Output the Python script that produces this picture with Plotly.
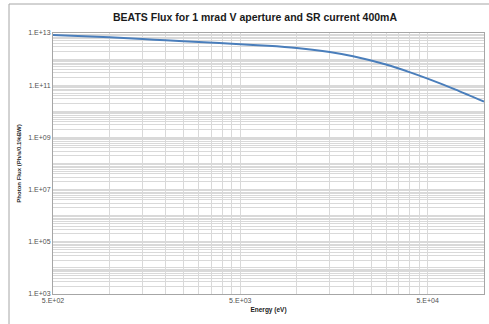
import plotly.graph_objects as go
import numpy as np

# Data
energy_eV = [500, 1000, 1500, 2000, 3000, 5000, 7000, 10000, 15000, 20000, 30000, 40000, 50000, 70000, 100000]
log_flux = [12.92, 12.835, 12.77, 12.72, 12.655, 12.567, 12.51, 12.425, 12.272, 12.107, 11.79, 11.50, 11.25, 10.84, 10.368]
flux = [10 ** v for v in log_flux]

x_label_vals = [500, 5000, 50000]
x_label_text = ["5.E+02", "5.E+03", "5.E+04"]
y_label_vals = [1e3, 1e5, 1e7, 1e9, 1e11, 1e13]
y_label_text = ["1.E+03", "1.E+05", "1.E+07", "1.E+09", "1.E+11", "1.E+13"]

# gridline positions (Excel-style minor gridlines)
x_grid = [500 * m * 10 ** k for k in range(3) for m in range(1, 10)] + [100000]
x_grid = sorted(set(v for v in x_grid if 500 <= v <= 100000))
y_grid = sorted(set(m * 10 ** k for k in range(3, 13) for m in range(1, 10)) | {1e13})

def ticktexts(grid, vals, texts):
    out = []
    for g in grid:
        t = ""
        for v, s in zip(vals, texts):
            if abs(g - v) / v < 1e-9:
                t = s
        out.append(t)
    return out

fig = go.Figure()
fig.add_trace(go.Scatter(x=energy_eV, y=flux, mode="lines",
                         line=dict(color="#4a7ebb", width=2, shape="spline", smoothing=0.8),
                         showlegend=False))

W, H = 489, 324
L, R, T, B = 53, 5, 33, 30
pw, ph = W - L - R, H - T - B

fig.update_layout(
    width=W, height=H,
    margin=dict(l=L, r=R, t=T, b=B),
    paper_bgcolor="white", plot_bgcolor="white",
    title=dict(text="<b>BEATS Flux for 1 mrad V aperture and SR current 400mA</b>",
               x=255 / W, xanchor="center", y=1 - 17 / H, yanchor="middle",
               font=dict(family="Liberation Sans, sans-serif", size=10.5, color="#1a1a1a")),
    font=dict(family="Liberation Sans, sans-serif", size=7, color="#404040"),
)

fig.update_xaxes(type="log", range=[np.log10(500), np.log10(100000)],
                 tickmode="array", tickvals=x_grid, ticktext=ticktexts(x_grid, x_label_vals, x_label_text),
                 showgrid=True, gridcolor="#d9d9d9", gridwidth=1,
                 showline=True, linecolor="#a6a6a6", mirror=True, ticks="", ticklen=0,
                 tickfont=dict(size=7, color="#505050"),
                 title=dict(text="<b>Energy (eV)</b>", font=dict(size=6.5, color="#1a1a1a"), standoff=4),
                 zeroline=False)
fig.update_yaxes(type="log", range=[3, 13],
                 tickmode="array", tickvals=y_grid, ticktext=ticktexts(y_grid, y_label_vals, y_label_text),
                 showgrid=True, gridcolor="#d9d9d9", gridwidth=1,
                 showline=True, linecolor="#a6a6a6", mirror=True, ticks="", ticklen=0,
                 tickfont=dict(size=7, color="#505050"),
                 title=dict(text="<b>Photon Flux (Ph/s/0.1%BW)</b>", font=dict(size=6, color="#1a1a1a"), standoff=6),
                 zeroline=False)

# outer chart border (extends past right and bottom edges as in reference)
fig.add_shape(type="rect", xref="paper", yref="paper",
              x0=(9 - L) / pw, x1=(W + 5 - L) / pw,
              y0=-(B + 5) / ph, y1=1 + (T - 4) / ph,
              line=dict(color="#a6a6a6", width=1), fillcolor="rgba(0,0,0,0)", layer="below")

fig.write_html("out.html")
